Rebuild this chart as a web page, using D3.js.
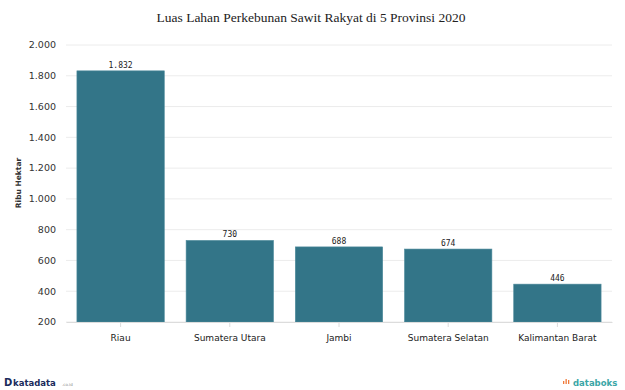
<!DOCTYPE html>
<html><head><meta charset="utf-8">
<script src="https://cdn.jsdelivr.net/npm/d3@7"></script>
<style>body{margin:0;background:#fff}svg{display:block}</style>
</head><body>
<svg id="c" width="625" height="390"></svg>
<script>
const categories = ["Riau", "Sumatera Utara", "Jambi", "Sumatera Selatan", "Kalimantan Barat"];
const values = [1832, 730, 688, 674, 446];
const yTicks = [200, 400, 600, 800, 1000, 1200, 1400, 1600, 1800, 2000];
const title = "Luas Lahan Perkebunan Sawit Rakyat di 5 Provinsi 2020";
const yTitle = "Ribu Hektar";

const svg = d3.select("#c");
const fmt = v => d3.format(",")(v).replace(/,/g, ".");
const x = d3.scaleBand().domain(categories).range([66, 612]).paddingInner(0.2).paddingOuter(0.1);
const y = d3.scaleLinear().domain([200, 2000]).range([322, 45]);

svg.append("text").attr("x", 311).attr("y", 22).attr("text-anchor", "middle")
  .attr("font-family", "Liberation Serif, Times New Roman, serif").attr("font-size", 13.5).attr("fill", "#222")
  .text(title);

// gridlines
svg.append("g").selectAll("line").data(yTicks).join("line")
  .attr("x1", 66).attr("x2", 612).attr("y1", d => y(d)).attr("y2", d => y(d))
  .attr("stroke", "#ececec").attr("stroke-width", 1);

// y labels
svg.append("g").selectAll("text").data(yTicks).join("text")
  .attr("x", 56).attr("y", d => y(d)).attr("dy", "0.35em").attr("text-anchor", "end")
  .attr("font-family", "DejaVu Sans, Verdana, sans-serif").attr("font-size", 9.5).attr("fill", "#333")
  .text(fmt);

svg.append("text").attr("transform", "translate(21,183) rotate(-90)").attr("text-anchor", "middle")
  .attr("font-family", "DejaVu Sans, Verdana, sans-serif").attr("font-size", 7.5).attr("font-weight", "bold").attr("fill", "#333")
  .text(yTitle);

// bars
svg.append("g").selectAll("rect").data(values).join("rect")
  .attr("x", (d, i) => x(categories[i])).attr("width", x.bandwidth())
  .attr("y", d => y(d)).attr("height", d => y(200) - y(d))
  .attr("fill", "#337588").attr("stroke", "#4d8a9b").attr("stroke-width", 0.6);

// value labels
svg.append("g").selectAll("text").data(values).join("text")
  .attr("x", (d, i) => x(categories[i]) + x.bandwidth() / 2).attr("y", d => y(d) - 3)
  .attr("text-anchor", "middle")
  .attr("font-family", "DejaVu Sans Mono, Liberation Mono, monospace").attr("font-size", 8).attr("fill", "#222")
  .text(fmt);

// x axis
const xa = svg.append("g").attr("transform", "translate(0,322)")
  .call(d3.axisBottom(x).tickSize(5).tickSizeOuter(0).tickPadding(8));
xa.select(".domain").attr("stroke", "#dcdcdc");
xa.selectAll(".tick line").attr("stroke", "#dcdcdc");
xa.selectAll("text").attr("font-family", "DejaVu Sans, Verdana, sans-serif").attr("font-size", 9).attr("fill", "#222");

// footer logos
const fg = svg.append("g");
fg.append("text").attr("x", 4).attr("y", 386).attr("font-family", "DejaVu Sans, sans-serif").attr("font-weight", "bold").attr("font-size", 10).attr("fill", "#1a2a5c").text("D");
fg.append("text").attr("x", 13).attr("y", 386).attr("font-family", "DejaVu Sans, sans-serif").attr("font-weight", "bold").attr("font-size", 8.5).attr("fill", "#1a2a5c").text("katadata");
fg.append("text").attr("x", 62).attr("y", 386).attr("font-family", "DejaVu Sans, sans-serif").attr("font-size", 4).attr("fill", "#8a8a8a").text(".co.id");
fg.append("text").attr("x", 573).attr("y", 386).attr("font-family", "DejaVu Sans, sans-serif").attr("font-size", 8.5).attr("font-weight", "bold").attr("fill", "#3aa6a6").text("databoks");
const bars = [[563,3,2],[565.5,5,0],[568,4,1]];
fg.selectAll("rect.ic").data(bars).join("rect").attr("class","ic")
  .attr("x", d => d[0]).attr("y", d => 379 + d[2]).attr("width", 1.3).attr("height", d => d[1])
  .attr("fill", "#f07a3a");
</script>
</body></html>
